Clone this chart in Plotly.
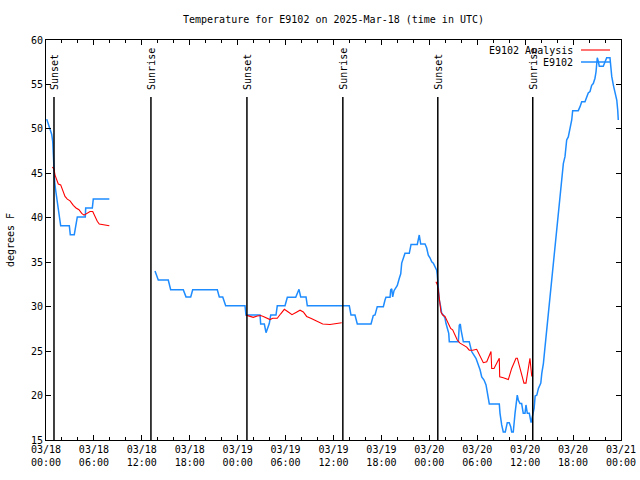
import pandas as pd
import plotly.graph_objects as go

BASE = pd.Timestamp("2025-03-18 00:00")

# Observed temperature (E9102), hours since 2025-03-18 00:00 UTC
obs_hours_1 = [0.09, 0.29, 0.5, 0.71, 0.84, 0.91, 1.0, 1.09, 1.21, 1.41, 1.67, 1.84, 2.92, 3.04,
               3.54, 3.72, 3.92, 4.92, 4.97, 5.8, 5.92, 7.93]
obs_temp_1 = [51.1, 50.6, 50.1, 49.4, 48.6, 46.9, 45.5, 44.0, 43.1, 41.7, 40.5, 39.1, 39.1, 38.1,
              38.1, 39.1, 40.1, 40.1, 41.1, 41.1, 42.1, 42.1]

obs_hours_2 = [13.65, 13.86, 14.06, 15.31, 15.61, 17.19, 17.53, 18.12, 18.37, 21.45, 21.7, 22.13,
               22.29, 22.5, 24.92, 25.04, 26.8, 26.88, 27.34, 27.55, 27.96, 28.14, 28.8, 28.96,
               29.93, 30.22, 31.27, 31.68, 31.89, 32.56, 32.72, 37.98, 38.19, 38.69, 38.98, 40.7,
               40.98, 41.2, 41.48, 42.24, 42.45, 42.57, 43.08, 43.16, 43.29, 43.41, 43.58, 43.7,
               43.99, 44.24, 44.42, 44.54, 44.74, 44.95, 45.49, 45.71, 46.49, 46.74, 46.92, 47.46,
               47.67, 47.87, 48.08, 48.3, 48.5, 48.71, 48.92, 48.99, 49.12, 49.24, 49.42, 49.55,
               49.75, 49.96, 50.09, 50.25, 50.43, 50.5, 51.63, 51.75, 51.88, 51.97, 52.13, 52.26,
               53.0, 53.3, 53.84, 54.35, 54.56, 54.85, 55.1, 55.26, 55.39, 55.51, 56.76, 56.85,
               57.06, 57.26, 57.51, 57.76, 58.01, 58.19, 58.31, 58.51, 58.73, 58.94, 59.01, 59.14,
               59.35, 59.56, 59.76, 59.98, 60.1, 60.27, 60.52, 60.74, 60.95, 61.12, 61.25, 61.46,
               61.66, 61.96, 62.08, 62.28, 62.49, 62.7, 62.9, 63.11, 63.32, 63.52, 63.74, 63.95,
               64.15, 64.36, 64.57, 64.78, 64.99, 65.2, 65.4, 65.61, 65.83, 65.95, 66.65, 66.87,
               67.08, 67.49, 67.7, 67.9, 68.12, 68.33, 68.53, 68.74, 68.87, 69.03, 69.16, 69.28,
               69.78, 70.0, 70.21, 70.62, 70.84, 71.05, 71.26, 71.47, 71.59, 71.66]
obs_temp_2 = [34.0, 33.4, 33.0, 33.0, 31.9, 31.9, 31.1, 31.1, 31.9, 31.9, 31.1, 31.1,
              30.7, 30.1, 30.1, 29.06, 29.06, 28.05, 28.05, 27.07, 28.1, 29.06, 29.06, 30.1,
              30.1, 31.05, 31.05, 31.95, 31.1, 31.1, 30.1, 30.1, 29.06, 29.06, 28.05, 28.05,
              29.0, 29.06, 30.0, 30.0, 30.75, 31.05, 31.05, 31.9, 32.0, 31.1, 31.8, 32.0,
              32.4, 33.2, 33.7, 34.9, 35.5, 36.0, 36.0, 37.0, 37.0, 38.06, 37.05, 37.05,
              36.6, 35.8, 35.5, 35.05, 34.9, 34.5, 34.1, 33.6, 32.25, 30.75, 30.0, 29.25,
              29.06, 28.7, 28.1, 27.55, 27.0, 26.05, 26.05, 27.9, 28.05, 27.4, 26.6, 26.05,
              26.05, 24.95, 24.2, 22.9, 22.1, 21.75, 21.2, 20.25, 19.5, 19.05, 19.05, 18.0,
              16.7, 15.9, 15.9, 16.95, 16.95, 16.5, 15.9, 15.9, 18.0, 19.5, 20.05, 19.5,
              19.1, 19.1, 18.0, 18.0, 18.94, 18.0, 18.0, 16.95, 18.0, 18.55, 19.95, 20.05,
              20.8, 21.4, 22.5, 23.6, 25.5, 27.4, 29.25, 31.1, 33.0, 34.1, 36.75, 37.9,
              39.75, 41.6, 43.5, 46.1, 46.9, 48.75, 49.1, 49.9, 51.0, 52.05, 52.05, 52.5,
              53.05, 53.05, 53.6, 54.05, 54.2, 54.9, 55.1, 55.7, 56.4, 58.0, 57.6, 57.05,
              57.05, 57.6, 58.0, 58.0, 55.9, 54.9, 54.2, 53.25, 52.1, 51.0]

# Analysis temperature (E9102 Analysis)
ana_hours_1 = [0.79, 1.0, 1.13, 1.34, 1.54, 1.84, 2.09, 2.38, 2.67, 3.01, 3.42, 3.76, 4.13, 4.47,
               4.76, 5.1, 5.51, 5.85, 6.14, 6.42, 6.67, 7.18, 7.6, 7.93]
ana_temp_1 = [45.7, 45.5, 44.8, 44.2, 43.8, 43.7, 43.05, 42.4, 42.1, 41.9, 41.4, 41.1, 40.9, 40.5,
              40.3, 40.5, 40.7, 40.7, 40.1, 39.6, 39.3, 39.2, 39.1, 39.1]

ana_hours_2 = [25.04, 25.46, 25.96, 26.46, 26.88, 27.21, 27.64, 28.05, 28.39, 28.96, 29.39, 29.84,
               30.34, 30.8, 31.3, 31.81, 32.22, 32.64, 33.15, 33.56, 34.1, 34.65, 35.56, 36.19, 37.03]
ana_temp_2 = [29.05, 28.9, 28.8, 28.95, 29.0, 28.9, 28.7, 28.55, 28.7, 28.7, 29.2, 29.7,
              29.4, 29.1, 29.35, 29.6, 29.4, 28.9, 28.7, 28.5, 28.3, 28.05, 28.0, 28.05, 28.2]

ana_hours_3 = [48.83, 48.99, 49.12, 49.24, 49.33, 49.46, 49.67, 49.96, 50.17, 50.37, 50.67, 50.92,
               51.21, 51.5, 51.84, 52.25, 52.68, 53.0, 53.43, 53.93, 54.35, 54.76, 55.19, 55.72,
               55.81, 56.1, 56.76, 56.81, 57.26, 57.89, 58.31, 58.85, 59.02, 59.35, 59.85, 60.1,
               60.39, 60.6, 60.74, 60.82, 60.99]
ana_temp_3 = [32.8, 32.5, 31.9, 31.1, 30.6, 29.4, 29.06, 28.9, 28.5, 28.1, 27.55, 27.4,
              26.8, 26.25, 25.9, 25.7, 25.45, 25.1, 25.1, 25.2, 24.4, 23.7, 23.8, 24.95,
              23.05, 23.05, 24.2, 22.1, 22.0, 21.8, 23.05, 24.2, 24.2, 23.1, 21.4, 21.4,
              23.0, 24.2, 22.9, 22.2, 22.2]

# Sun events
event_hours = [1.0, 13.14, 25.16, 37.17, 49.06, 60.95]
event_labels = ["Sunset", "Sunrise", "Sunset", "Sunrise", "Sunset", "Sunrise"]

series_names = ["E9102 Analysis", "E9102"]
series_colors = ["#ff0000", "#1e8cff"]
title_text = "Temperature for E9102 on 2025-Mar-18 (time in UTC)"
y_title = "degrees F"


def to_time(hours):
    return [BASE + pd.Timedelta(hours=h) for h in hours]


def join(segments):
    xs, ys = [], []
    for i, (h, v) in enumerate(segments):
        if i:
            xs.append(None)
            ys.append(None)
        xs.extend(to_time(h))
        ys.extend(v)
    return xs, ys


FONT = "DejaVu Sans Mono"

obs_x, obs_y = join([(obs_hours_1, obs_temp_1), (obs_hours_2, obs_temp_2)])
ana_x, ana_y = join([(ana_hours_1, ana_temp_1), (ana_hours_2, ana_temp_2), (ana_hours_3, ana_temp_3)])

fig = go.Figure()
fig.add_trace(go.Scatter(x=obs_x, y=obs_y, mode="lines", name=series_names[1],
                         line=dict(color=series_colors[1], width=1.5), connectgaps=False))
fig.add_trace(go.Scatter(x=ana_x, y=ana_y, mode="lines", name=series_names[0],
                         line=dict(color=series_colors[0], width=1.1), connectgaps=False))

shapes = []
annotations = []
for h, lab in zip(event_hours, event_labels):
    t = BASE + pd.Timedelta(hours=h)
    shapes.append(dict(type="line", xref="x", yref="paper", x0=t, x1=t, y0=0, y1=0.8575,
                       line=dict(color="black", width=1.5)))
    annotations.append(dict(text=lab, xref="x", yref="paper", x=t, y=0.87, xanchor="center",
                            yanchor="bottom", textangle=-90, showarrow=False,
                            font=dict(family=FONT, size=10, color="black")))

# Gnuplot-style key: text right-aligned, sample on the right
key_rows = [(series_names[0], series_colors[0], 0.975), (series_names[1], series_colors[1], 0.945)]
for name, col, yp in key_rows:
    annotations.append(dict(text=name, xref="paper", yref="paper", x=0.92, y=yp, xanchor="right",
                            yanchor="middle", showarrow=False,
                            font=dict(family=FONT, size=10, color="black")))
    shapes.append(dict(type="line", xref="paper", yref="paper", x0=0.9304, x1=0.9809, y0=yp, y1=yp,
                       line=dict(color=col, width=1.5 if col == series_colors[1] else 1.1)))

fig.update_layout(
    width=640, height=480,
    margin=dict(l=46, r=19, t=40, b=40, autoexpand=False),
    paper_bgcolor="white", plot_bgcolor="white",
    showlegend=False,
    font=dict(family=FONT, size=10, color="black"),
    title=dict(text=title_text, x=0.5, xref="paper", xanchor="center",
               y=1 - 19 / 480, yref="container", yanchor="middle",
               font=dict(family=FONT, size=10, color="black")),
    shapes=shapes, annotations=annotations,
)
fig.update_xaxes(
    range=[BASE, BASE + pd.Timedelta(hours=72)],
    tickmode="linear", tick0=BASE, dtick=6 * 3600 * 1000,
    tickformat="%m/%d<br>%H:%M",
    ticks="inside", ticklen=5, tickcolor="black", tickwidth=1,
    minor=dict(ticks="inside", ticklen=3, dtick=2 * 3600 * 1000, tick0=BASE, tickcolor="black"),
    showline=True, linecolor="black", linewidth=1, mirror="ticks",
    showgrid=False, zeroline=False, automargin=False,
    tickfont=dict(family=FONT, size=10, color="black"),
)
fig.update_yaxes(
    range=[15, 60], tickmode="linear", tick0=15, dtick=5,
    ticks="inside", ticklen=5, tickcolor="black", tickwidth=1,
    showline=True, linecolor="black", linewidth=1, mirror="ticks",
    showgrid=False, zeroline=False, automargin=False,
    title=dict(text=y_title, standoff=14, font=dict(family=FONT, size=10, color="black")),
    tickfont=dict(family=FONT, size=10, color="black"),
)

# remove the page's default body margin so the 640x480 figure fills the window exactly
fig.write_html("out.html",
               config={"displayModeBar": False},
               post_script="document.body.style.margin='0';document.body.style.overflow='hidden';")
